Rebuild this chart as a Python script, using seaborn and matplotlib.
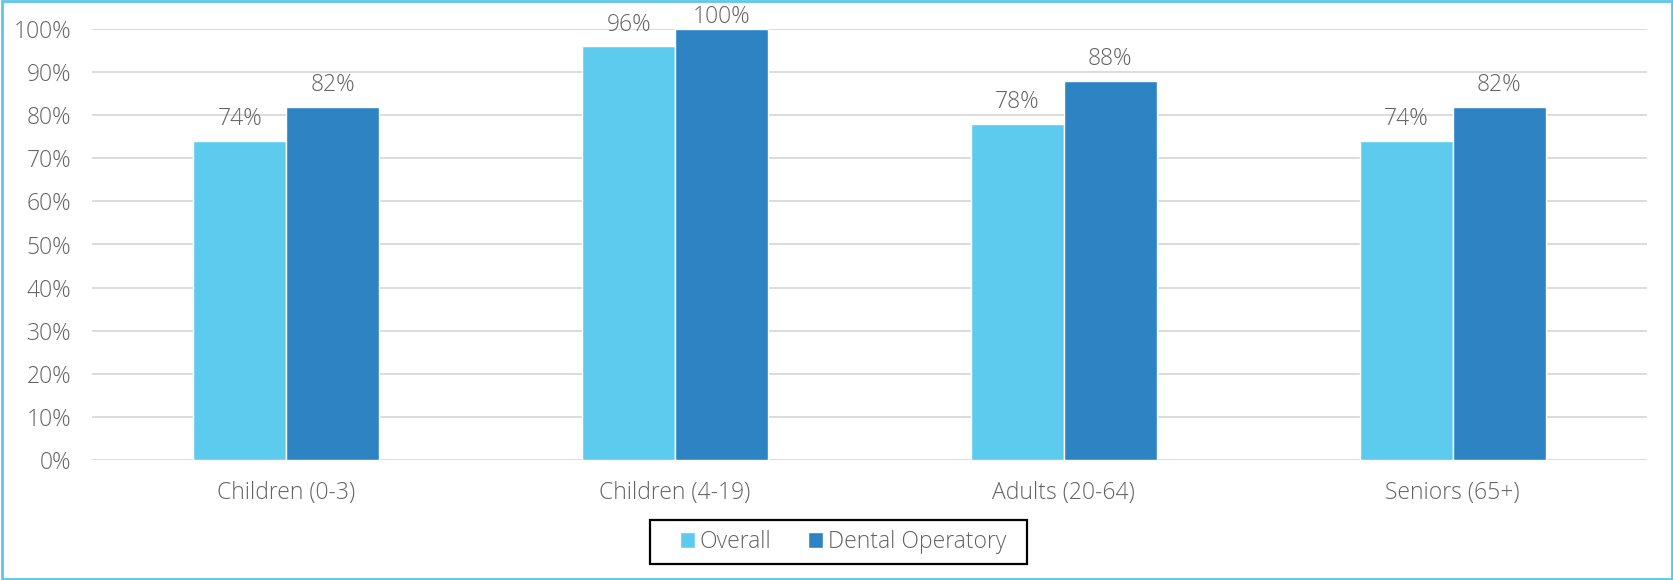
import matplotlib
matplotlib.use("Agg")
import matplotlib.pyplot as plt
import seaborn as sns
import pandas as pd
from matplotlib.patches import Rectangle

categories = ["Children (0-3)", "Children (4-19)", "Adults (20-64)", "Seniors (65+)"]
series_names = ["Overall", "Dental Operatory"]
overall = [74, 96, 78, 74]
dental = [82, 100, 88, 82]
yticks = [0, 10, 20, 30, 40, 50, 60, 70, 80, 90, 100]

df = pd.DataFrame({
    "category": categories * 2,
    "series": [series_names[0]] * 4 + [series_names[1]] * 4,
    "value": overall + dental,
})

sns.set_theme(style="white")
plt.rcParams["font.family"] = ["Open Sans", "DejaVu Sans"]
plt.rcParams["font.weight"] = "light"
text_color = "#636363"
colors = ["#5DCBEE", "#2E83C3"]
fs = 16.5
W, H = 1674, 580

fig = plt.figure(figsize=(16.74, 5.8), dpi=100)
ax = fig.add_axes([92 / W, 1 - 460 / H, (1647 - 92) / W, (460 - 29) / H])

sns.barplot(data=df, x="category", y="value", hue="series", palette=colors,
            width=0.478, ax=ax, saturation=1, legend=True)

ax.set_ylim(0, 100)
ax.set_xlim(-0.5, 3.5)
ax.set_yticks(yticks)
ax.set_yticklabels([f"{v}%" for v in yticks])
ax.yaxis.grid(True, color="#D9D9D9", linewidth=1.3)
ax.set_axisbelow(True)
for s in ax.spines.values():
    s.set_visible(False)
ax.set_xlabel("")
ax.set_ylabel("")
ax.tick_params(axis="y", length=0, pad=15, labelsize=fs, labelcolor=text_color)
ax.tick_params(axis="x", length=0, pad=15, labelsize=fs, labelcolor=text_color)
for lab in ax.get_yticklabels() + ax.get_xticklabels():
    lab.set_fontweight("light")

for cont in ax.containers:
    for bar, v in zip(cont, cont.datavalues):
        pad = 0 if v >= 100 else 7
        ax.annotate(f"{v:.0f}%", (bar.get_x() + bar.get_width() / 2, bar.get_height()),
                    xytext=(0, pad), textcoords="offset points", ha="center", va="bottom",
                    fontsize=fs, color=text_color, fontweight="light", annotation_clip=False)

handles, labels = ax.get_legend_handles_labels()
ax.get_legend().remove()
leg = fig.legend(handles, labels, loc="center", bbox_to_anchor=(843 / W, 1 - 542 / H),
                 ncol=2, frameon=False, fontsize=fs, handlelength=0.65, handleheight=0.65,
                 handletextpad=0.2, columnspacing=1.6, borderpad=0.2, borderaxespad=0)
for t in leg.get_texts():
    t.set_color(text_color)
    t.set_fontweight("light")

fig.patches.append(Rectangle((650 / W, 1 - 564 / H), (1027 - 650) / W, 44 / H,
                             transform=fig.transFigure, fill=False,
                             edgecolor="black", linewidth=1.6))
fig.patches.append(Rectangle((0.001, 0.002), 0.998, 0.996, transform=fig.transFigure,
                             fill=False, edgecolor="#5BC8EA", linewidth=2))

fig.savefig("out.png", dpi=100)
